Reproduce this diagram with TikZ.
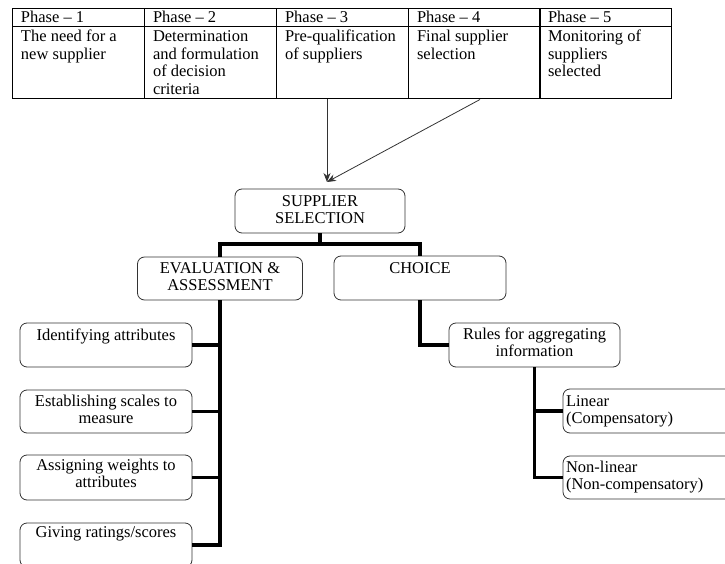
\documentclass[tikz,border=0pt]{standalone}
\usepackage{fontspec}
\setmainfont{Liberation Serif}
\usetikzlibrary{arrows.meta,calc}
\newcommand{\bxc}[4]{\parbox[c][#2pt][t]{#1pt}{\centering\rule{0pt}{#3pt}#4\par}}
\newcommand{\bxl}[4]{\parbox[c][#2pt][t]{#1pt}{\raggedright\leftskip=3pt\rule{0pt}{#3pt}#4\par}}
\newcommand{\tcell}[3]{\parbox[c][#1pt][t]{132pt}{\raggedright\leftskip=9pt\rule{0pt}{#2pt}#3\par}}
\begin{document}
\begin{tikzpicture}[x=1pt,y=-1pt,
  every node/.style={font=\fontsize{16.5}{17.6}\selectfont},
  box/.style={draw=black!80, line width=0.8pt, rounded corners=7pt, inner sep=0pt, fill=white},
  cell/.style={draw=black, line width=1pt, inner sep=0pt},
  bus/.style={line width=3.5pt, black},
  arr/.style={draw=black!80, line width=0.8pt, -{Stealth[length=9pt,width=7pt]}}]
\useasboundingbox (0,0) rectangle (725,564);
\clip (0,0) rectangle (725,564);

% table
\node[cell] (h1) at (78,18)  {\tcell{18}{14}{Phase -- 1}};
\node[cell] (h2) at (210,18) {\tcell{18}{14}{Phase -- 2}};
\node[cell] (h3) at (342,18) {\tcell{18}{14}{Phase -- 3}};
\node[cell] (h4) at (474,18) {\tcell{18}{14}{Phase -- 4}};
\node[cell] (h5) at (605,18) {\tcell{18}{14}{Phase -- 5}};
\node[cell] (c1) at (78,63)  {\tcell{72}{14.7}{The need for a\\new supplier}};
\node[cell] (c2) at (210,63) {\tcell{72}{14.7}{Determination\\and formulation\\of decision\\criteria}};
\node[cell] (c3) at (342,63) {\tcell{72}{14.7}{Pre-qualification\\of suppliers}};
\node[cell] (c4) at (474,63) {\tcell{72}{14.7}{Final supplier\\selection}};
\node[cell] (c5) at (605,63) {\tcell{72}{14.7}{Monitoring of\\suppliers\\selected}};

% boxes
\node[box] (ss) at (320,211) {\bxc{170}{44}{17}{SUPPLIER\\SELECTION}};
\node[box] (eval) at (220,278.5) {\bxc{165}{43}{16}{EVALUATION \&\\ASSESSMENT}};
\node[box] (choice) at (420,278) {\bxc{172}{44}{17}{CHOICE}};
\node[box] (rules) at (534.5,345) {\bxc{171}{44}{16}{Rules for aggregating\\information}};
\node[box] (lin) at (653,411) {\bxl{180}{44}{17}{Linear\\(Compensatory)}};
\node[box] (nonlin) at (653,477.5) {\bxl{180}{43}{16}{Non-linear\\(Non-compensatory)}};
\node[box] (l1) at (106,345) {\bxc{172}{44}{17}{Identifying attributes}};
\node[box] (l2) at (106,411.5) {\bxc{172}{43}{16}{Establishing scales to\\measure}};
\node[box] (l3) at (106,477.5) {\bxc{172}{45}{15}{Assigning weights to\\attributes}};
\node[box] (l4) at (106,545) {\bxc{172}{44}{14}{Giving ratings/scores}};

% arrows from table
\coordinate (tip) at (327,182);
\draw[arr] (c3.south -| tip) -- (tip);
\draw[arr] ([xshift=6pt]c4.south) -- (tip);

% bus connectors
\coordinate (j) at (320,244);
\draw[bus] (ss.south) -- (j);
\draw[bus] (eval.north) |- (j) -| (choice.north);
\draw[bus] (eval.south) |- (l4.east);
\foreach \n in {l1,l2,l3} \draw[bus] (\n.east) -- (\n.east -| eval.south);
\draw[bus] (choice.south) |- (rules.west);
\draw[bus] (rules.south) |- (nonlin.west);
\draw[bus] (lin.west) -- (lin.west -| rules.south);
\end{tikzpicture}
\end{document}
